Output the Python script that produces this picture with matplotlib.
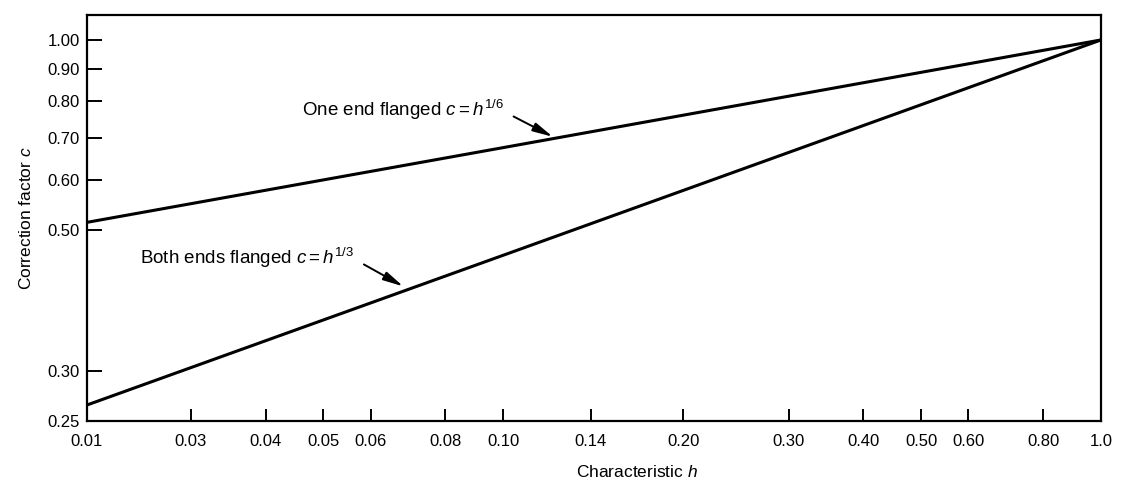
import matplotlib
matplotlib.use('Agg')
import matplotlib.pyplot as plt
from matplotlib.ticker import FixedLocator, FixedFormatter, NullLocator

plt.rcParams['font.family'] = ['Liberation Sans', 'DejaVu Sans']
plt.rcParams['mathtext.fontset'] = 'custom'
plt.rcParams['mathtext.rm'] = 'Liberation Sans'
plt.rcParams['mathtext.it'] = 'Liberation Sans:italic'

# values (log-log chart)
h_points = [0.0201, 0.1, 1.0]
c_one_end = [0.515, 0.676, 1.0]     # c = h^(1/6)
c_both_ends = [0.265, 0.457, 1.0]   # c = h^(1/3)

# the left edge of the printed axis is labelled 0.01
x_tick_values = [0.0201, 0.03, 0.04, 0.05, 0.06, 0.08, 0.10, 0.14, 0.20,
                 0.30, 0.40, 0.50, 0.60, 0.80, 1.0]
x_tick_labels = ['0.01', '0.03', '0.04', '0.05', '0.06', '0.08', '0.10', '0.14',
                 '0.20', '0.30', '0.40', '0.50', '0.60', '0.80', '1.0']
y_tick_values = [0.25, 0.30, 0.50, 0.60, 0.70, 0.80, 0.90, 1.00]
y_tick_labels = ['0.25', '0.30', '0.50', '0.60', '0.70', '0.80', '0.90', '1.00']

fig = plt.figure(figsize=(11.22, 4.93), dpi=100)
ax = fig.add_axes([0.0775, 0.146, 0.9038, 0.8236])

ax.plot(h_points, c_one_end, color='black', lw=2.2, solid_capstyle='butt')
ax.plot(h_points, c_both_ends, color='black', lw=2.2, solid_capstyle='butt')

ax.set_xscale('log')
ax.set_yscale('log')
ax.set_xlim(0.0201, 1.0)
ax.set_ylim(0.25, 1.095)

ax.xaxis.set_major_locator(FixedLocator(x_tick_values))
ax.xaxis.set_major_formatter(FixedFormatter(x_tick_labels))
ax.xaxis.set_minor_locator(NullLocator())
ax.yaxis.set_major_locator(FixedLocator(y_tick_values))
ax.yaxis.set_major_formatter(FixedFormatter(y_tick_labels))
ax.yaxis.set_minor_locator(NullLocator())

ax.tick_params(axis='x', direction='in', length=9, width=1.4, pad=9, labelsize=12)
ax.tick_params(axis='y', direction='in', length=11, width=1.4, pad=5, labelsize=12)
for s in ax.spines.values():
    s.set_linewidth(1.6)

ax.set_ylabel('Correction factor $c$', fontsize=12.5, labelpad=10)
ax.set_xlabel('Characteristic $h$', fontsize=12.5)
ax.xaxis.set_label_coords(0.542, -0.105)

arrow = dict(arrowstyle='-|>,head_length=0.9,head_width=0.2', color='black', lw=1.4,
             shrinkA=6, shrinkB=0, relpos=(1.0, 0.45))
ax.annotate('One end flanged $c = h^{\\mathrm{1/6}}$', xy=(0.121, 0.703), xytext=(0.1, 0.775),
            ha='right', va='center', fontsize=13.5, arrowprops=arrow)
ax.annotate('Both ends flanged $c = h^{\\mathrm{1/3}}$', xy=(0.068, 0.408), xytext=(0.0562, 0.453),
            ha='right', va='center', fontsize=13.5, arrowprops=arrow)

fig.savefig('out.png', dpi=100)
